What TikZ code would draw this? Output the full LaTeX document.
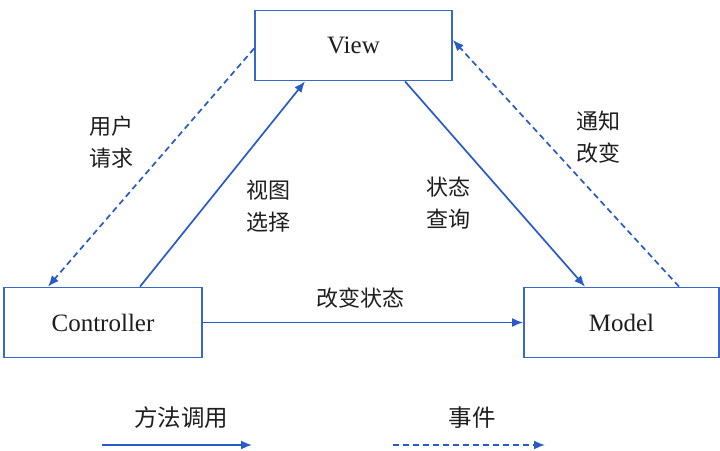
\documentclass[tikz,border=0pt]{standalone}
\usepackage{fontspec}
\setmainfont{Liberation Serif}
\newfontfamily\cjk{Noto Sans CJK SC}
\usetikzlibrary{arrows.meta}
\definecolor{edgeblue}{RGB}{40,90,200}
\definecolor{boxblue}{RGB}{55,105,205}
\definecolor{txt}{RGB}{30,30,30}
\begin{document}
\begin{tikzpicture}[x=1pt,y=-1pt,
  comp/.style={draw=boxblue,line width=1.8pt,fill=white,minimum height=70pt,
    font=\fontsize{25}{28}\selectfont,text=txt,inner sep=0pt},
  call/.style={draw=edgeblue,line width=1.7pt,-{Latex[length=11pt,width=9pt]}},
  event/.style={call,dash pattern=on 6pt off 4pt},
  lbl/.style={font=\cjk\fontsize{22}{32}\selectfont,text=txt,align=center,inner sep=0pt}]
\useasboundingbox (0,0) rectangle (720,450);

% components
\node[comp,minimum width=197pt] (view)  at (353.5,45.5) {View};
\node[comp,minimum width=198pt] (ctrl)  at (103,322.5) {Controller};
\node[comp,minimum width=195pt] (model) at (621.5,322.5) {Model};

% method calls
\draw[call] ([xshift=37pt]ctrl.north) -- ([xshift=-48.5pt]view.south);
\draw[call] ([xshift=51.5pt]view.south) -- ([xshift=-36.5pt]model.north);
\draw[call] (ctrl.east) -- (model.west);

% events
\draw[event] ([yshift=-3pt]view.west) -- ([xshift=-55pt]ctrl.north);
\draw[event] ([xshift=57.5pt]model.north) -- ([yshift=5.5pt]view.east);

% edge labels
\node[lbl] (req)    at (111,142) {用户\\请求};
\node[lbl] (select) at (268,206) {视图\\选择};
\node[lbl] (query)  at (448,203) {状态\\查询};
\node[lbl] (notify) at (598,137) {通知\\改变};
\node[lbl] (change) at (360,298) {改变状态};

% legend
\coordinate (callA) at (102,445);
\coordinate (callB) at (252,445);
\coordinate (evA) at (393,445);
\coordinate (evB) at (545,445);
\draw[call] (callA) -- (callB);
\draw[event] (evA) -- (evB);
\node[lbl,font=\cjk\fontsize{23.5}{26}\selectfont] (callkey) at (181,418) {方法调用};
\node[lbl,font=\cjk\fontsize{23.5}{26}\selectfont] (evkey) at (472,418) {事件};
\end{tikzpicture}
\end{document}
